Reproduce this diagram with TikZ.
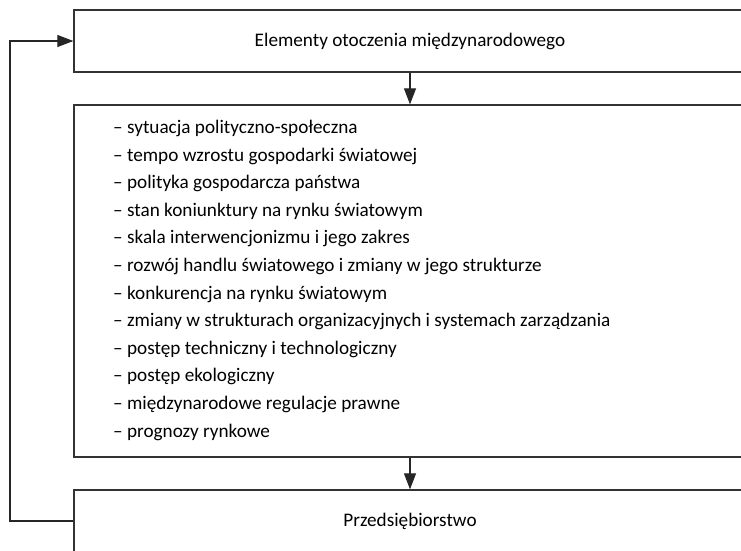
\documentclass[tikz,border=0pt]{standalone}
\usepackage{fontspec}
\setmainfont{Carlito}
\usetikzlibrary{arrows.meta}
\begin{document}
\begin{tikzpicture}[x=1pt,y=-1pt,
  box/.style={draw=black!80,line width=1.3pt,minimum width=672pt,minimum height=62pt,inner sep=0pt,font=\fontsize{19.2}{22}\selectfont},
  conn/.style={draw=black!85,line width=1.1pt,-{Triangle[length=16pt,width=12pt]}},
  listtext/.style={anchor=north west,align=left,inner sep=0pt,font=\fontsize{19.2}{27.6}\selectfont}]
\useasboundingbox (0,0) rectangle (741,550);
\clip (0,0) rectangle (741,550);
\node[box] (top) at (410,41) {Elementy otoczenia międzynarodowego};
\node[box,minimum height=352pt] (mid) at (410,281) {};
\node[box] (bot) at (410,521) {Przedsiębiorstwo};
\node[listtext] (list) at (113,120) {– sytuacja polityczno-społeczna\\
– tempo wzrostu gospodarki światowej\\
– polityka gospodarcza państwa\\
– stan koniunktury na rynku światowym\\
– skala interwencjonizmu i jego zakres\\
– rozwój handlu światowego i zmiany w jego strukturze\\
– konkurencja na rynku światowym\\
– zmiany w strukturach organizacyjnych i systemach zarządzania\\
– postęp techniczny i technologiczny\\
– postęp ekologiczny\\
– międzynarodowe regulacje prawne\\
– prognozy rynkowe};
\coordinate (c) at (10,0);
\draw[conn] (top) -- (mid);
\draw[conn] (mid) -- (bot);
\draw[conn] (bot.west) -- (bot.west -| c) |- (top.west);
\end{tikzpicture}
\end{document}
